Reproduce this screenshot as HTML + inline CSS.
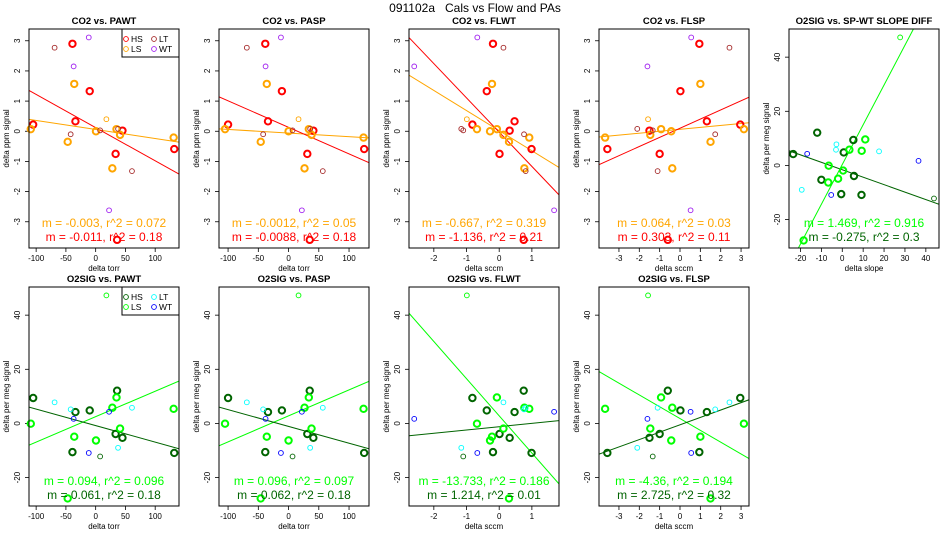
<!DOCTYPE html>
<html><head><meta charset="utf-8"><style>
html,body{margin:0;padding:0;background:#fff;}
svg{display:block;font-family:"Liberation Sans",Arial,sans-serif;}
</style></head><body>
<svg id="chart" width="950" height="550" viewBox="0 0 950 550" xmlns="http://www.w3.org/2000/svg">
<text x="475" y="12" text-anchor="middle" font-size="12">091102a&#160;&#160;&#160;Cals vs Flow and PAs</text>
</svg>
<script>
// ---- data (25 calibration points) ----
const co2Y = [0.22,2.9,1.33,0.33,-0.75,0.02,-0.59,-3.6, 0.07,1.57,-0.35,0,-1.23,0.07,-0.12,-0.21,0.4, 2.77,-0.1,0.03,0.08,-1.32, 3.11,2.15,-2.62];
const o2Y = [9.4,-10.6,4.8,4.2,-3.9,-5.3,-10.9,12.1, -0.1,-4.9,-27.7,-6.3,5.8,9.6,-1.9,5.4,47.3, 7.8,5.2,-12.2,-9.0,5.8, -10.9,1.7,4.3];
const pawtX = [-105,-39,-10,-34,33.5,45,132,36, -109,-36,-47,0.5,28,35,41,131,18, -69,-42,7.5,37.6,61, -11.6,-37,22.5];
const paspX = [-100,-38.5,-11,-34,31,41,125,35, -105,-36,-46,0,26.4,33.5,38,124,16.5, -69,-42,6.6,35.7,56.6, -12.6,-38,22];
const flwtX = [-0.82,-0.19,-0.38,0.47,0.01,0.32,0.99,0.75, -0.68,-0.22,0.30,-0.28,0.77,-0.07,0.13,0.92,-0.99, 0.13,0.76,-1.10,-1.16,0.81, -0.67,-2.6,1.68];
const flspX = [2.96,0.95,0.02,1.32,-1.0,-1.5,-3.57,-0.6, 3.14,1.0,1.5,-0.43,-0.38,-0.93,-1.46,-3.68,-1.57, 2.43,1.73,-1.34,-2.1,-1.1, 0.55,-1.6,0.52];
const slopeX = [5.3,-0.5,0.7,-23.5,5.6,-10,9.2,-12, -6.5,-2,-18.5,-6.7,3.4,11,0.4,9.3,27.7, -2.8,17.6,43.9,-19.4,-3, -5.3,36.5,-16.8];
const co2Cat = [0,0,0,0,0,0,0,0, 1,1,1,1,1,1,1,1,1, 2,2,2,2,2, 3,3,3];
const o2Cat = [0,0,0,0,0,0,0,0, 1,1,1,1,1,1,1,1,1, 2,2,0,2,2, 3,3,3];
const thick = [1,1,1,1,1,1,1,1, 1,1,1,1,1,1,1,1,0, 0,0,0,0,0, 0,0,0];
// fit lines: [slope, intercept] for group LS (first) and HS (second)
const fitSlopes = [[-0.003,-0.011],[-0.0012,-0.0088],[-0.667,-1.136],[0.064,0.303],[1.469,-0.275],
                   [0.094,-0.061],[0.096,-0.062],[-13.733,1.214],[-4.36,2.725]];
const fitIntercepts = [[0.06,0.12],[-0.06,0.13],[0.02,-0.03],[0.065,0.1],[0.35,-1.6],
                       [2.5,-0.8],[2.8,-1.1],[2.8,-1.2],[1.8,-0.5]];
const statLabels = [["m = -0.003, r^2 = 0.072","m = -0.011, r^2 = 0.18"],["m = -0.0012, r^2 = 0.05","m = -0.0088, r^2 = 0.18"],
  ["m = -0.667, r^2 = 0.319","m = -1.136, r^2 = 0.21"],["m = 0.064, r^2 = 0.03","m = 0.303, r^2 = 0.11"],
  ["m = 1.469, r^2 = 0.916","m = -0.275, r^2 = 0.3"],["m = 0.094, r^2 = 0.096","m = 0.061, r^2 = 0.18"],
  ["m = 0.096, r^2 = 0.097","m = 0.062, r^2 = 0.18"],["m = -13.733, r^2 = 0.186","m = 1.214, r^2 = 0.01"],
  ["m = -4.36, r^2 = 0.194","m = 2.725, r^2 = 0.32"]];
const titles = ["CO2 vs. PAWT","CO2 vs. PASP","CO2 vs. FLWT","CO2 vs. FLSP","O2SIG vs. SP-WT SLOPE DIFF","O2SIG vs. PAWT","O2SIG vs. PASP","O2SIG vs. FLWT","O2SIG vs. FLSP"];
const torrTicks = [-100,-50,0,50,100];
const flwtTicks = [-2,-1,0,1];
const flspTicks = [-3,-2,-1,0,1,2,3];
const slopeTicks = [-20,-10,0,10,20,30,40];
const co2Ticks = [-3,-2,-1,0,1,2,3];
const o2Ticks = [-20,0,20,40];
const legendLabels = ["HS","LS","LT","WT"];

const co2Col = ["#ff0000","#ffa500","#a52a2a","#a020f0"];
const o2Col = ["#006400","#00ff00","#00ffff","#0000ff"];
const NS = "http://www.w3.org/2000/svg";
const svg = document.getElementById('chart');
function mk(tag, attrs, parent){ const e=document.createElementNS(NS,tag); for(const k in attrs) e.setAttribute(k,attrs[k]); (parent||svg).appendChild(e); return e; }

const panels = [
 {x:29,y:29,xs:pawtX,ys:co2Y,xl:[-112,140],yl:[-3.87,3.39],xt:torrTicks,yt:co2Ticks,xlab:"delta torr",ylab:"delta ppm signal",co2:true,leg:true},
 {x:219,y:29,xs:paspX,ys:co2Y,xl:[-115,133],yl:[-3.87,3.39],xt:torrTicks,yt:co2Ticks,xlab:"delta torr",ylab:"delta ppm signal",co2:true},
 {x:409,y:29,xs:flwtX,ys:co2Y,xl:[-2.76,1.83],yl:[-3.87,3.39],xt:flwtTicks,yt:co2Ticks,xlab:"delta sccm",ylab:"delta ppm signal",co2:true},
 {x:599,y:29,xs:flspX,ys:co2Y,xl:[-3.98,3.39],yl:[-3.87,3.39],xt:flspTicks,yt:co2Ticks,xlab:"delta sccm",ylab:"delta ppm signal",co2:true},
 {x:789,y:29,xs:slopeX,ys:o2Y,xl:[-25.5,46.3],yl:[-30.5,50.4],xt:slopeTicks,yt:o2Ticks,xlab:"delta slope",ylab:"delta per meg signal",co2:false},
 {x:29,y:287,xs:pawtX,ys:o2Y,xl:[-112,140],yl:[-30.5,50.4],xt:torrTicks,yt:o2Ticks,xlab:"delta torr",ylab:"delta per meg signal",co2:false,leg:true},
 {x:219,y:287,xs:paspX,ys:o2Y,xl:[-115,133],yl:[-30.5,50.4],xt:torrTicks,yt:o2Ticks,xlab:"delta torr",ylab:"delta per meg signal",co2:false},
 {x:409,y:287,xs:flwtX,ys:o2Y,xl:[-2.76,1.83],yl:[-30.5,50.4],xt:flwtTicks,yt:o2Ticks,xlab:"delta sccm",ylab:"delta per meg signal",co2:false},
 {x:599,y:287,xs:flspX,ys:o2Y,xl:[-3.98,3.39],yl:[-30.5,50.4],xt:flspTicks,yt:o2Ticks,xlab:"delta sccm",ylab:"delta per meg signal",co2:false}
];
const W=150,H=219;

panels.forEach((p,i)=>{
  const g = mk('g',{});
  
  
  const sx = v => p.x + (v-p.xl[0])/(p.xl[1]-p.xl[0])*W;
  const sy = v => p.y + H - (v-p.yl[0])/(p.yl[1]-p.yl[0])*H;
  const cols = p.co2 ? co2Col : o2Col;
  const cats = p.co2 ? co2Cat : o2Cat;
  const cp = mk('clipPath',{id:'clip'+i},g);
  mk('rect',{x:p.x,y:p.y,width:W,height:H},cp);
  const t = mk('text',{x:p.x+W/2,y:p.y-5,'text-anchor':'middle','font-size':'9.5','font-weight':'bold'},g);
  t.textContent = titles[i];
  
  
  p.xt.forEach(v=>{
    const X=sx(v);
    mk('line',{x1:X,x2:X,y1:p.y+H,y2:p.y+H+4,stroke:'#000','stroke-width':0.8},g);
    const tl=mk('text',{x:X,y:p.y+H+13,'text-anchor':'middle','font-size':'8'},g);
    tl.textContent=v;
    
    
  });
  const xl=mk('text',{x:p.x+W/2,y:p.y+H+23,'text-anchor':'middle','font-size':'8'},g);
  xl.textContent=p.xlab;
  
  
  p.yt.forEach(v=>{
    const Y=sy(v);
    mk('line',{x1:p.x-4,x2:p.x,y1:Y,y2:Y,stroke:'#000','stroke-width':0.8},g);
    const tl=mk('text',{x:0,y:0,'text-anchor':'middle','font-size':'8',transform:`translate(${p.x-9},${Y}) rotate(-90)`},g);
    tl.textContent=v;
    
    
  });
  const yl=mk('text',{x:0,y:0,'text-anchor':'middle','font-size':'8',transform:`translate(${p.x-20},${p.y+H/2}) rotate(-90)`},g);
  yl.textContent=p.ylab;
  
  
  [0,1].forEach(k=>{
    const m=fitSlopes[i][k], b=fitIntercepts[i][k];
    const ln=mk('line',{x1:sx(p.xl[0]),y1:sy(m*p.xl[0]+b),x2:sx(p.xl[1]),y2:sy(m*p.xl[1]+b),stroke:cols[k===0?1:0],'stroke-width':1,'clip-path':`url(#clip${i})`},g);
    
    
  });
  p.xs.forEach((xv,j)=>{
    const c=mk('circle',{cx:sx(xv),cy:sy(p.ys[j]),r:thick[j]?3.2:2.4,fill:'none',stroke:cols[cats[j]],'stroke-width':thick[j]?2:0.9},g);
    
    
  });
  [0,1].forEach(k=>{
    const st=mk('text',{x:p.x+W/2,y:(p.y+H)-(k===0?21:7),'text-anchor':'middle','font-size':'12',fill:cols[k===0?1:0]},g);
    st.textContent=statLabels[i][k];
    
    
  });
  const bx=mk('rect',{x:p.x,y:p.y,width:W,height:H,fill:'none',stroke:'#000','stroke-width':1},g);
  
  
  if(p.leg){
    const lg=mk('g',{},g);
    
    
    mk('rect',{x:p.x+W-57,y:p.y,width:57,height:28,fill:'#fff',stroke:'#000','stroke-width':1},lg);
    const order=[[0,0,0],[1,0,1],[2,1,0],[3,1,1]];
    order.forEach(([cat,col,row])=>{
      const ex=p.x+W-53+col*28, ey=p.y+10+row*10;
      const e=mk('g',{},lg);
      
      
      mk('circle',{cx:ex,cy:ey,r:2.4,fill:'none',stroke:cols[cat],'stroke-width':0.9},e);
      const tx=mk('text',{x:ex+5,y:ey+3,'font-size':'8.5'},e);
      tx.textContent=legendLabels[cat];
    });
  }
});
</script>
</body></html>
